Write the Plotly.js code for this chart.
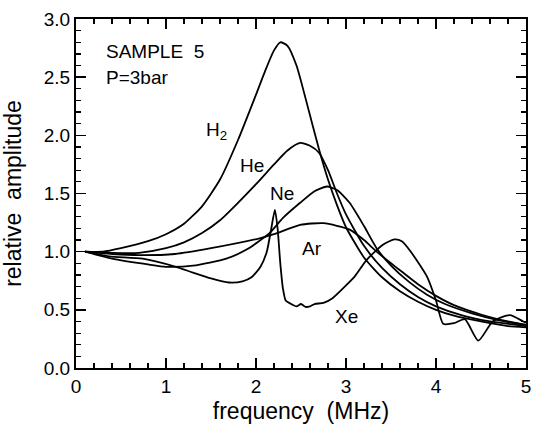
<!DOCTYPE html>
<html>
<head>
<meta charset="utf-8">
<script src="https://cdn.plot.ly/plotly-3.0.1.min.js"></script>
<style>html,body{margin:0;padding:0;background:#fff;}#chart{width:535px;height:424px;}</style>
</head>
<body>
<div id="chart"></div>
<script>
// H2
var h2X = [0.1, 0.3, 0.5, 0.8, 1.0, 1.2, 1.4, 1.6, 1.8, 2.0, 2.1, 2.2, 2.27, 2.35, 2.45, 2.55, 2.7, 2.8, 2.9, 3.0, 3.2, 3.4, 3.6, 3.8, 4.0, 4.2, 4.5, 4.8, 5.0];
var h2Y = [1.0, 1.0, 1.03, 1.09, 1.15, 1.24, 1.39, 1.62, 1.96, 2.35, 2.55, 2.73, 2.80, 2.77, 2.60, 2.32, 1.88, 1.62, 1.40, 1.21, 0.95, 0.78, 0.66, 0.57, 0.50, 0.45, 0.40, 0.36, 0.35];
// He
var heX = [0.1, 0.4, 0.7, 1.0, 1.2, 1.4, 1.6, 1.8, 2.0, 2.2, 2.35, 2.49, 2.6, 2.7, 2.8, 2.9, 3.0, 3.2, 3.4, 3.6, 3.8, 4.0, 4.3, 4.6, 5.0];
var heY = [1.0, 0.99, 0.99, 1.03, 1.08, 1.16, 1.27, 1.42, 1.58, 1.75, 1.87, 1.935, 1.91, 1.85, 1.70, 1.50, 1.32, 1.05, 0.86, 0.72, 0.61, 0.53, 0.45, 0.40, 0.36];
// Ne
var neX = [0.1, 0.4, 0.8, 1.0, 1.3, 1.67, 1.9, 2.15, 2.3, 2.49, 2.65, 2.79, 2.9, 3.04, 3.2, 3.34, 3.5, 3.7, 3.9, 4.1, 4.4, 4.7, 5.0];
var neY = [1.0, 0.94, 0.89, 0.87, 0.88, 0.94, 1.02, 1.16, 1.29, 1.42, 1.52, 1.56, 1.53, 1.42, 1.22, 1.03, 0.88, 0.74, 0.63, 0.55, 0.47, 0.41, 0.37];
// Ar
var arX = [0.1, 0.4, 0.7, 1.1, 1.5, 2.04, 2.2, 2.49, 2.75, 3.04, 3.2, 3.34, 3.5, 3.6, 3.8, 4.0, 4.2, 4.5, 4.8, 5.0];
var arY = [1.0, 0.98, 0.97, 0.98, 1.03, 1.115, 1.15, 1.23, 1.245, 1.19, 1.10, 1.00, 0.90, 0.84, 0.72, 0.62, 0.54, 0.46, 0.40, 0.37];
// Xe
var xeX = [0.1, 0.37, 0.74, 1.11, 1.3, 1.5, 1.7, 1.85, 1.95, 2.05, 2.12, 2.17, 2.21, 2.24, 2.27, 2.3, 2.33, 2.38, 2.45, 2.5, 2.55, 2.6, 2.65, 2.75, 2.85, 3.0, 3.1, 3.23, 3.41, 3.54, 3.62, 3.71, 3.9, 4.0, 4.08, 4.2, 4.32, 4.47, 4.63, 4.82, 4.97, 5.0];
var xeY = [1.0, 0.96, 0.94, 0.87, 0.82, 0.77, 0.735, 0.745, 0.78, 0.87, 1.0, 1.2, 1.36, 1.2, 0.9, 0.68, 0.58, 0.555, 0.53, 0.55, 0.525, 0.53, 0.55, 0.56, 0.60, 0.71, 0.79, 0.93, 1.06, 1.105, 1.09, 1.01, 0.785, 0.58, 0.38, 0.385, 0.42, 0.235, 0.40, 0.455, 0.40, 0.39];

var xTicks = [0, 1, 2, 3, 4, 5];
var yTicks = [0.0, 0.5, 1.0, 1.5, 2.0, 2.5, 3.0];
var gasLabels = ['H<sub>2</sub>', 'He', 'Ne', 'Ar', 'Xe'];

var series = [[h2X, h2Y], [heX, heY], [neX, neY], [arX, arY], [xeX, xeY]];
var traces = series.map(function (s, i) {
  return {
    x: s[0], y: s[1], mode: 'lines', type: 'scatter',
    line: {color: '#000', width: 1.8, shape: 'spline', smoothing: 0.6},
    name: gasLabels[i], showlegend: false, hoverinfo: 'skip'
  };
});

var font = {family: '"Liberation Sans", Arial, Helvetica, sans-serif', color: '#000'};
function f(size) { return Object.assign({}, font, {size: size}); }

var labelPos = [[1.56, 2.04], [1.96, 1.745], [2.29, 1.50], [2.62, 1.03], [3.0, 0.447]];
var annotations = gasLabels.map(function (t, i) {
  return {x: labelPos[i][0], y: labelPos[i][1], xref: 'x', yref: 'y', text: t,
    showarrow: false, font: f(19), xanchor: 'center', yanchor: 'middle'};
});
annotations.push({x: 0.31, y: 2.72, xref: 'x', yref: 'y', text: 'SAMPLE  5', showarrow: false,
  font: f(19), xanchor: 'left', yanchor: 'middle'});
annotations.push({x: 0.31, y: 2.50, xref: 'x', yref: 'y', text: 'P=3bar', showarrow: false,
  font: f(19), xanchor: 'left', yanchor: 'middle'});

var axisCommon = {
  showgrid: false, zeroline: false, showline: true, linecolor: '#000', linewidth: 2,
  ticks: 'inside', ticklen: 10, tickwidth: 1.5, tickcolor: '#000', mirror: 'ticks',
  tickfont: f(19)
};

var layout = {
  width: 535, height: 424,
  margin: {l: 76, r: 9, t: 19, b: 56},
  paper_bgcolor: '#fff', plot_bgcolor: '#fff',
  xaxis: Object.assign({}, axisCommon, {
    range: [0, 5], tickvals: xTicks, ticktext: xTicks.map(String),
    minor: {ticks: 'inside', dtick: 0.2, tick0: 0, ticklen: 5, tickwidth: 1.2, tickcolor: '#000'},
    title: {text: 'frequency  (MHz)', font: f(23)}
  }),
  yaxis: Object.assign({}, axisCommon, {
    range: [0, 3], tickvals: yTicks, ticktext: yTicks.map(function (v) { return v.toFixed(1); }),
    minor: {ticks: 'inside', dtick: 0.1, tick0: 0, ticklen: 5, tickwidth: 1.2, tickcolor: '#000'},
    title: {text: 'relative  amplitude', font: f(23)}
  }),
  annotations: annotations,
  showlegend: false
};

Plotly.newPlot('chart', traces, layout, {staticPlot: true, displayModeBar: false});
</script>
</body>
</html>
